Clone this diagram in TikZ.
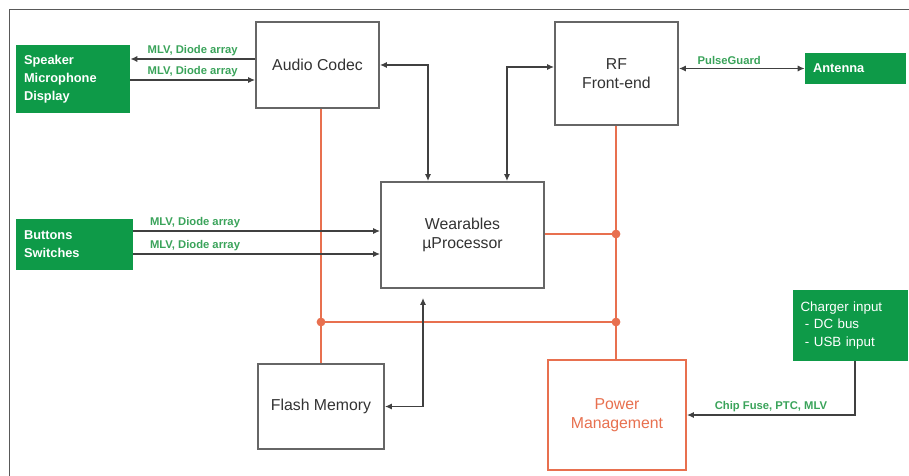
\documentclass[tikz,border=0pt]{standalone}
\usepackage{fontspec}
\setmainfont{Liberation Sans}
\usepackage{xcolor}
\usetikzlibrary{arrows.meta,positioning,calc}
\definecolor{wgreen}{HTML}{0E9A48}
\definecolor{lblgreen}{HTML}{3AA35A}
\definecolor{pwrorange}{HTML}{E8704F}
\definecolor{linegray}{HTML}{404040}

\begin{document}
\begin{tikzpicture}[x=0.02cm, y=-0.02cm,
    blk/.style={draw=black!60, line width=1.1pt, fill=white, text=black!80, font=\fontsize{9}{11}\selectfont, align=center, inner sep=0pt},
    pwrblk/.style={blk, draw=pwrorange, text=pwrorange},
    io/.style={fill=wgreen, text=white, font=\fontsize{7.3}{10.2}\selectfont\bfseries, align=left, inner sep=0pt},
    link/.style={draw=linegray, line width=1pt, arrows={-}, >={Latex[length=4pt,width=3.6pt]}},
    pwrline/.style={draw=pwrorange, line width=0.8pt},
    lbl/.style={font=\fontsize{6.4}{7}\selectfont\bfseries, text=lblgreen, inner sep=1.5pt},
    dot/.style={circle, fill=pwrorange, inner sep=0pt, minimum size=5pt}
]
\useasboundingbox (0,0) rectangle (909,476);
\draw[black!65, line width=0.9pt] (909,9.5) -- (9.5,9.5) -- (9.5,476);

% blocks
\node[blk, minimum width=2.46cm, minimum height=1.72cm] (codec) at (317.5,65) {Audio Codec};
\node[blk, minimum width=2.46cm, minimum height=2.06cm] (rf) at (616.5,73.5) {RF\\Front-end};
\node[blk, minimum width=3.26cm, minimum height=2.12cm] (cpu) at (462.5,235) {Wearables\\µProcessor};
\node[blk, minimum width=2.52cm, minimum height=1.70cm] (flash) at (321,406.5) {Flash Memory};
\node[pwrblk, minimum width=2.76cm, minimum height=2.20cm] (pwr) at (617,415) {Power\\Management};

% green I/O boxes
\node[io, minimum width=2.28cm, minimum height=1.36cm, text width=1.96cm] (spk) at (73,79) {Speaker\\Microphone\\Display};
\node[io, minimum width=2.34cm, minimum height=1.02cm, text width=2.02cm] (btn) at (74.5,244.5) {Buttons\\Switches};
\node[io, minimum width=2.02cm, minimum height=0.62cm, text width=1.7cm] (ant) at (855.5,68.5) {Antenna};
\node[io, minimum width=2.30cm, minimum height=1.42cm, text width=2.0cm, font=\fontsize{7.6}{10}\selectfont] (chg) at (850.5,325.5) {Charger input\\\ - DC bus\\\ - USB input};

% power rails
\coordinate (jL) at (321,322);
\coordinate (jR) at (616,322);
\coordinate (jM) at (616,234);
\draw[pwrline] (codec.south -| jL) -- (flash.north -| jL);
\draw[pwrline] (rf.south -| jR) -- (pwr.north -| jR);
\draw[pwrline] (jL) -- (jR);
\draw[pwrline] (cpu.east |- jM) -- (jM);
\node[dot] at (jL) {};
\node[dot] at (jR) {};
\node[dot] at (jM) {};

% signal links
\draw[link,<-] ([yshift=0.4cm]spk.east) -- node[lbl, above] {MLV, Diode array} ([yshift=0.4cm]spk.east -| codec.west);
\draw[link,->] ([yshift=-0.02cm]spk.east) -- node[lbl, above] {MLV, Diode array} ([yshift=-0.02cm]spk.east -| codec.west);
\draw[link,->] ([yshift=0.27cm]btn.east) -- node[lbl, above, pos=0.25] {MLV, Diode array} ([yshift=0.27cm]btn.east -| cpu.west);
\draw[link,->] ([yshift=-0.19cm]btn.east) -- node[lbl, above, pos=0.25] {MLV, Diode array} ([yshift=-0.19cm]btn.east -| cpu.west);
\draw[link,<->] (codec.east) -| ([xshift=-0.69cm]cpu.north);
\draw[link,<->] ([yshift=0.13cm]rf.west) -| ([xshift=0.89cm]cpu.north);
\draw[link,<->] (rf.east |- ant.west) -- node[lbl, above, pos=0.4] {PulseGuard} (ant.west);
\draw[link,<->, shorten <=0.18cm] ([xshift=-0.79cm]cpu.south) |- (flash.east);
\draw[link,->] ([xshift=0.09cm]chg.south) |- node[lbl, above, pos=0.75] {Chip Fuse, PTC, MLV} (pwr.east);
\end{tikzpicture}
\end{document}
